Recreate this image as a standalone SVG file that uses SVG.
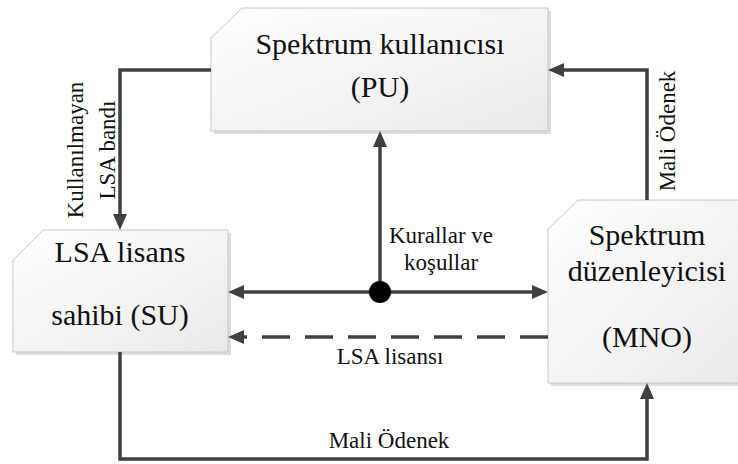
<svg xmlns="http://www.w3.org/2000/svg" width="738" height="464" viewBox="0 0 738 464">
  <defs>
    <linearGradient id="boxFill" x1="0" y1="0" x2="1" y2="1">
      <stop offset="0" stop-color="#ffffff"/>
      <stop offset="1" stop-color="#e9e9e9"/>
    </linearGradient>
    <marker id="arrow" markerUnits="userSpaceOnUse" markerWidth="16" markerHeight="14" viewBox="0 0 16 14" refX="8" refY="7" orient="auto-start-reverse">
      <path d="M0,0 L16,7 L0,14 Z" fill="#404040"/>
    </marker>
    <style>
      .box { fill: url(#boxFill); stroke: #c8c8c8; stroke-width: 1; }
      .shadow { fill: #dcdcdc; }
      .title { font-size: 30px; fill: #111; text-anchor: middle; }
      .label { font-size: 23px; fill: #111; text-anchor: middle; }
      .wire { fill: none; stroke: #404040; stroke-width: 3.5; }
      .dashed { stroke-dasharray: 28 15; }
    </style>
  </defs>

  <rect width="738" height="464" fill="#ffffff"/>

  <g font-family="'Liberation Serif', 'Times New Roman', serif">
  <!-- Spektrum kullanıcısı (PU) -->
  <g id="pu">
    <path class="shadow" d="M214,41 L245,11 L551,11 L551,134 L214,134 Z"/>
    <path class="box" d="M211,38 L242,8 L548,8 L548,131 L211,131 Z"/>
    <text class="title" x="380" y="54">Spektrum kullanıcısı</text>
    <text class="title" x="380" y="97">(PU)</text>
  </g>

  <!-- LSA lisans sahibi (SU) -->
  <g id="su">
    <path class="shadow" d="M16,263 L46,233 L231,233 L231,355 L16,355 Z"/>
    <path class="box" d="M13,260 L43,230 L228,230 L228,352 L13,352 Z"/>
    <text class="title" x="120" y="262">LSA lisans</text>
    <text class="title" x="120" y="325">sahibi (SU)</text>
  </g>

  <!-- Spektrum düzenleyicisi (MNO) -->
  <g id="mno">
    <path class="shadow" d="M551,232 L581,203 L749,203 L749,386 L551,386 Z"/>
    <path class="box" d="M548,229 L578,200 L746,200 L746,383 L548,383 Z"/>
    <text class="title" x="647" y="245">Spektrum</text>
    <text class="title" x="647" y="281">düzenleyicisi</text>
    <text class="title" x="647" y="347">(MNO)</text>
  </g>

  <!-- Connectors -->
  <g id="connectors">
    <!-- PU to SU: unused LSA band -->
    <path class="wire" d="M211,70 L120,70 L120,222" marker-end="url(#arrow)"/>
    <!-- MNO to PU: payment -->
    <path class="wire" d="M647,200 L647,70 L556,70" marker-end="url(#arrow)"/>
    <!-- rules and conditions -->
    <path class="wire" d="M380,292 L380,139" marker-end="url(#arrow)"/>
    <path class="wire" d="M236,292 L540,292" marker-start="url(#arrow)" marker-end="url(#arrow)"/>
    <circle cx="380" cy="292" r="11" fill="#000"/>
    <!-- LSA licence -->
    <path class="wire dashed" d="M548,337 L236,337" marker-end="url(#arrow)"/>
    <!-- SU to MNO: payment -->
    <path class="wire" d="M120,352 L120,459 L647,459 L647,391" marker-end="url(#arrow)"/>

    <text class="label" transform="translate(83,150) rotate(-90)">Kullanılmayan</text>
    <text class="label" transform="translate(115,150) rotate(-90)">LSA bandı</text>
    <text class="label" transform="translate(675,131) rotate(-90)">Mali Ödenek</text>
    <text class="label" x="441" y="243">Kurallar ve</text>
    <text class="label" x="441" y="270">koşullar</text>
    <text class="label" x="390" y="364">LSA lisansı</text>
    <text class="label" x="389" y="448">Mali Ödenek</text>
  </g>
  </g>
</svg>
